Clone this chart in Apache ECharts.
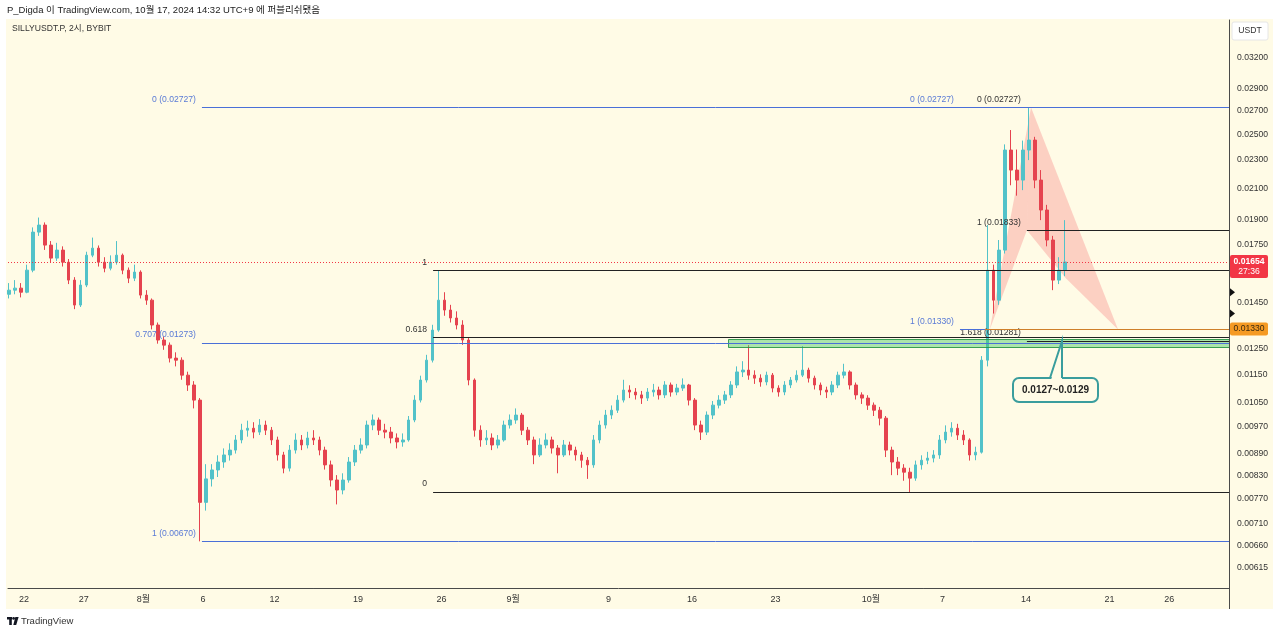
<!DOCTYPE html>
<html>
<head>
<meta charset="utf-8">
<script src="https://cdn.jsdelivr.net/npm/echarts@6/dist/echarts.min.js"></script>
<style>
html,body{margin:0;padding:0;background:#ffffff;}
#c{width:1280px;height:634px;}
</style>
</head>
<body>
<div id="c"></div>
<script>
// ---------------- DATA ----------------
const candleStart = Date.UTC(2024, 6, 20, 18);   // 12h candles
const candleStepHours = 12;
const firstOpen = 0.01490;
const closes = [
0.01510,0.01520,0.01500,0.01611,0.01822,0.01864,0.01747,0.01675,0.01719,0.01653,
0.01560,0.01439,0.01535,0.01691,0.01730,0.01653,0.01621,0.01653,0.01691,0.01611,
0.01570,0.01601,0.01486,0.01462,0.01349,0.01285,0.01264,0.01212,0.01204,0.01147,
0.01111,0.01058,0.00760,0.00820,0.00844,0.00866,0.00886,0.00900,0.00930,0.00960,
0.00966,0.00954,0.00976,0.00960,0.00930,0.00886,0.00849,0.00900,0.00930,0.00915,
0.00936,0.00930,0.00900,0.00858,0.00817,0.00791,0.00817,0.00866,0.00900,0.00915,
0.00976,0.00992,0.00960,0.00954,0.00936,0.00924,0.00930,0.00992,0.01058,0.01129,
0.01204,0.01327,0.01462,0.01416,0.01380,0.01349,0.01285,0.01129,0.00960,0.00930,
0.00936,0.00915,0.00930,0.00976,0.00992,0.01008,0.00960,0.00930,0.00886,0.00915,
0.00930,0.00906,0.00886,0.00915,0.00900,0.00886,0.00871,0.00858,0.00930,0.00976,
0.01008,0.01024,0.01058,0.01093,0.01086,0.01076,0.01065,0.01086,0.01093,0.01076,
0.01111,0.01086,0.01100,0.01111,0.01058,0.00976,0.00954,0.01008,0.01041,0.01058,
0.01076,0.01111,0.01159,0.01166,0.01147,0.01136,0.01122,0.01147,0.01100,0.01086,
0.01111,0.01129,0.01147,0.01166,0.01136,0.01111,0.01093,0.01086,0.01111,0.01147,
0.01159,0.01111,0.01076,0.01065,0.01041,0.01024,0.00998,0.00900,0.00866,0.00849,
0.00838,0.00822,0.00858,0.00871,0.00877,0.00886,0.00930,0.00954,0.00966,0.00945,
0.00930,0.00886,0.00894,0.01204,0.01611,0.01462,0.01719,0.02376,0.02227,0.02156,
0.02376,0.02454,0.02156,0.01957,0.01776,0.01560,0.01611,0.01654
];
const highs = [
0.01545,0.01560,0.01545,0.01640,0.01850,0.01910,0.01880,0.01770,0.01760,0.01740,
0.01670,0.01575,0.01560,0.01710,0.01790,0.01745,0.01680,0.01690,0.01770,0.01700,
0.01625,0.01640,0.01610,0.01510,0.01470,0.01360,0.01300,0.01275,0.01235,0.01215,
0.01160,0.01125,0.01065,0.00860,0.00860,0.00885,0.00905,0.00920,0.00945,0.00980,
0.00990,0.00985,0.00995,0.00990,0.00970,0.00940,0.00895,0.00915,0.00950,0.00945,
0.00955,0.00960,0.00940,0.00910,0.00870,0.00830,0.00835,0.00880,0.00915,0.00935,
0.00990,0.01010,0.01000,0.00980,0.00970,0.00950,0.00950,0.01005,0.01075,0.01145,
0.01225,0.01350,0.01611,0.01500,0.01440,0.01410,0.01370,0.01295,0.01135,0.00975,
0.00960,0.00950,0.00945,0.00990,0.01010,0.01030,0.01015,0.00970,0.00940,0.00935,
0.00950,0.00940,0.00915,0.00930,0.00925,0.00910,0.00895,0.00880,0.00945,0.00990,
0.01025,0.01040,0.01075,0.01130,0.01110,0.01100,0.01090,0.01100,0.01115,0.01105,
0.01125,0.01120,0.01115,0.01135,0.01115,0.01065,0.00990,0.01020,0.01055,0.01075,
0.01090,0.01125,0.01180,0.01200,0.01264,0.01165,0.01150,0.01160,0.01155,0.01110,
0.01125,0.01140,0.01165,0.01260,0.01175,0.01145,0.01120,0.01105,0.01125,0.01160,
0.01190,0.01165,0.01120,0.01085,0.01075,0.01050,0.01035,0.01005,0.00910,0.00880,
0.00860,0.00850,0.00870,0.00885,0.00895,0.00900,0.00945,0.00975,0.00985,0.00980,
0.00960,0.00935,0.00910,0.01220,0.01864,0.01640,0.01776,0.02420,0.02535,0.02380,
0.02450,0.02727,0.02480,0.02227,0.01990,0.01800,0.01680,0.01894
];
const lows = [
0.01470,0.01490,0.01475,0.01495,0.01600,0.01800,0.01720,0.01650,0.01660,0.01630,
0.01540,0.01420,0.01430,0.01525,0.01680,0.01630,0.01600,0.01610,0.01640,0.01590,
0.01545,0.01555,0.01470,0.01440,0.01330,0.01270,0.01245,0.01195,0.01180,0.01130,
0.01090,0.01030,0.00670,0.00740,0.00800,0.00825,0.00850,0.00870,0.00890,0.00920,
0.00940,0.00935,0.00945,0.00945,0.00915,0.00870,0.00835,0.00840,0.00890,0.00900,
0.00905,0.00915,0.00885,0.00845,0.00800,0.00755,0.00780,0.00810,0.00855,0.00890,
0.00905,0.00960,0.00945,0.00935,0.00920,0.00905,0.00910,0.00925,0.00985,0.01050,
0.01120,0.01195,0.01320,0.01390,0.01360,0.01330,0.01265,0.01110,0.00940,0.00910,
0.00915,0.00900,0.00905,0.00925,0.00965,0.00980,0.00945,0.00915,0.00860,0.00880,
0.00905,0.00890,0.00835,0.00880,0.00885,0.00870,0.00850,0.00820,0.00850,0.00920,
0.00965,0.00995,0.01015,0.01050,0.01065,0.01060,0.01045,0.01055,0.01070,0.01060,
0.01065,0.01070,0.01075,0.01090,0.01040,0.00960,0.00930,0.00945,0.00995,0.01030,
0.01045,0.01065,0.01100,0.01140,0.01130,0.01115,0.01105,0.01110,0.01085,0.01070,
0.01075,0.01100,0.01120,0.01140,0.01120,0.01095,0.01075,0.01065,0.01075,0.01100,
0.01135,0.01095,0.01060,0.01045,0.01025,0.01005,0.00975,0.00880,0.00830,0.00830,
0.00815,0.00786,0.00815,0.00845,0.00860,0.00865,0.00875,0.00920,0.00940,0.00930,
0.00915,0.00870,0.00871,0.00890,0.01180,0.01400,0.01440,0.01700,0.02120,0.02050,
0.02087,0.02300,0.02100,0.01894,0.01740,0.01510,0.01540,0.01580
];

const xTickDates = ['2024-07-22','2024-07-27','2024-08-01','2024-08-06','2024-08-12','2024-08-19','2024-08-26','2024-09-01','2024-09-09','2024-09-16','2024-09-23','2024-10-01','2024-10-07','2024-10-14','2024-10-21','2024-10-26'];
const xTickLabels = ['22','27','8월','6','12','19','26','9월','9','16','23','10월','7','14','21','26'];
const yTickValues = [0.032,0.029,0.027,0.025,0.023,0.021,0.019,0.0175,0.0145,0.0125,0.0115,0.0105,0.0097,0.0089,0.0083,0.0077,0.0071,0.0066,0.00615];

// Fibonacci retracement tools
const blueFibStart = '2024-08-05T22:00:00Z';
const blueFibPrices = [0.02727, 0.01273, 0.00670];
const blueFibLabels = ['0 (0.02727)', '0.707 (0.01273)', '1 (0.00670)'];

const blackFibStart = '2024-08-25T07:00:00Z';
const blackFibPrices = [0.01611, 0.01297, 0.00786];
const blackFibLabels = ['1', '0.618', '0'];

const blackFib2Start = '2024-10-14T01:40:00Z';
const blackFib2Prices = [0.02727, 0.01833, 0.01281];
const blackFib2Labels = ['0 (0.02727)', '1 (0.01833)', '1.618 (0.01281)'];

const blueFib2Start = '2024-10-08T11:00:00Z';
const blueFib2Prices = [0.02727, 0.01330];
const blueFib2Labels = ['0 (0.02727)', '1 (0.01330)'];

const orangeLineStart = '2024-10-10T13:00:00Z';
const orangeLinePrice = 0.01330;

// support zone
const zoneStart = '2024-09-19T00:00:00Z';
const zoneLow = 0.01258;
const zoneHigh = 0.01290;
const calloutTip = ['2024-10-17T00:00:00Z', 0.01281];
const calloutText = '0.0127~0.0129';

// harmonic pattern
const patternLeft = [['2024-10-10T23:00:00Z', 0.01330], ['2024-10-14T10:00:00Z', 0.02727], ['2024-10-14T01:40:00Z', 0.01833]];
const patternRight = [['2024-10-14T10:00:00Z', 0.02727], ['2024-10-21T17:00:00Z', 0.01330], ['2024-10-17T08:00:00Z', 0.01570], ['2024-10-14T01:40:00Z', 0.01833]];

const currentPrice = 0.01654;
const countdownText = '27:36';
const axisMarkerPrices = [0.01500, 0.01400];

// ---------------- BUILD ----------------
const HOUR = 3600000;
const FONT = '"Liberation Sans", "Noto Sans CJK KR", sans-serif';
const LABEL_FONT = '8.6px "Liberation Sans", sans-serif';
const CREAM = '#fffbe6';
const UP = '#52c2c9', DOWN = '#e5434f';
const BLUE = '#4a6fd8', BLUE_TEXT = '#5a7bd6', BLACK = '#222222', ORANGE = '#cf7f2a';

const axisStart = Date.parse('2024-07-20T15:49:00Z');
const axisEnd = Date.parse('2024-10-31T00:14:00Z');
const yMin = 0.005761, yMax = 0.03619;

const candleData = closes.map((c, i) => [
  candleStart + i * candleStepHours * HOUR,
  i === 0 ? firstOpen : closes[i - 1],
  c, lows[i], highs[i]
]);
const xTickTimes = xTickDates.map(d => Date.parse(d + 'T00:00:00Z'));

const levelItems = [];
function addLevels(start, prices, labels, lineColor, textColor) {
  prices.forEach((p, i) => levelItems.push({t: Date.parse(start), p: p, label: labels[i], color: lineColor, textColor: textColor}));
}
addLevels(blackFib2Start, blackFib2Prices, blackFib2Labels, BLACK, '#333');
addLevels(blueFib2Start, blueFib2Prices, blueFib2Labels, BLUE, BLUE_TEXT);
levelItems.push({t: Date.parse(orangeLineStart), p: orangeLinePrice, label: null, color: ORANGE});
addLevels(blackFibStart, blackFibPrices, blackFibLabels, BLACK, '#333');
addLevels(blueFibStart, blueFibPrices, blueFibLabels, BLUE, BLUE_TEXT);

// level lines as markLines (through the axes' scales)
const levelMarkLines = levelItems.map(it => [
  {coord: [it.t, it.p], lineStyle: {color: it.color, width: 1, type: 'solid', opacity: 1}},
  {coord: [axisEnd, it.p]}
]);

function renderLevelLabel(params, api) {
  const it = levelItems[params.dataIndex];
  if (!it.label) return null;
  const p = api.coord([it.t, it.p]);
  return {type: 'text', style: {text: it.label, x: p[0] - 6, y: p[1] - 8, align: 'right', verticalAlign: 'middle', fill: it.textColor, font: LABEL_FONT}};
}

const patterns = [patternLeft, patternRight];
function renderPattern(params, api) {
  const poly = patterns[params.dataIndex];
  const pts = poly.map(v => api.coord([Date.parse(v[0]), v[1]]));
  return {type: 'polygon', shape: {points: pts}, style: {fill: 'rgba(242,54,69,0.22)'}};
}

function renderZone(params, api) {
  const a = api.coord([Date.parse(zoneStart), zoneHigh]);
  const b = api.coord([Date.parse(zoneStart), zoneLow]);
  const cs = params.coordSys;
  const right = cs.x + cs.width;
  return {type: 'rect', shape: {x: Math.round(a[0]) + 0.5, y: Math.round(a[1]) + 0.5, width: right - a[0], height: Math.round(b[1] - a[1])},
          style: {fill: 'rgba(70,200,100,0.45)', stroke: 'rgba(40,150,70,0.9)', lineWidth: 1}};
}

function renderCallout(params, api) {
  const tip = api.coord([Date.parse(calloutTip[0]), calloutTip[1]]);
  const tx = Math.round(tip[0]), ty = Math.round(tip[1]);
  const teal = '#3a9d9d';
  return {type: 'group', children: [
    {type: 'rect', shape: {x: tx - 49, y: ty + 37, width: 85, height: 24, r: 6}, style: {fill: CREAM, stroke: teal, lineWidth: 2}},
    {type: 'polygon', shape: {points: [[tx - 11, ty + 39], [tx, ty], [tx, ty + 39]]}, style: {fill: CREAM}},
    {type: 'polyline', shape: {points: [[tx - 12, ty + 37], [tx, ty], [tx, ty + 37]]}, style: {stroke: teal, lineWidth: 2, fill: null}},
    {type: 'text', style: {text: calloutText, x: tx - 6.5, y: ty + 49, align: 'center', verticalAlign: 'middle', fill: '#222', font: 'bold 10px "Liberation Sans", sans-serif'}}
  ]};
}

function renderTags(params, api) {
  const cs = params.coordSys;
  const right = cs.x + cs.width;
  const pc = api.coord([axisEnd, currentPrice]);
  const po = api.coord([axisEnd, orangeLinePrice]);
  const yc = Math.round(pc[1]) + 0.5;
  const children = [
    {type: 'line', shape: {x1: cs.x, y1: yc, x2: right, y2: yc}, style: {stroke: '#f23645', lineWidth: 1, lineDash: [1, 2]}},
    {type: 'rect', shape: {x: right + 1, y: pc[1] - 7, width: 38, height: 23, r: 2}, style: {fill: '#f23645'}},
    {type: 'text', style: {text: currentPrice.toFixed(5), x: right + 20, y: pc[1] - 0.5, align: 'center', verticalAlign: 'middle', fill: '#fff', font: 'bold 8.6px "Liberation Sans", sans-serif'}},
    {type: 'text', style: {text: countdownText, x: right + 20, y: pc[1] + 9.5, align: 'center', verticalAlign: 'middle', fill: '#fff', font: '8.6px "Liberation Sans", sans-serif'}},
    {type: 'rect', shape: {x: right + 1, y: po[1] - 7, width: 38, height: 13, r: 2}, style: {fill: '#f59a23'}},
    {type: 'text', style: {text: orangeLinePrice.toFixed(5), x: right + 20, y: po[1] - 0.5, align: 'center', verticalAlign: 'middle', fill: '#3a2a10', font: '8.6px "Liberation Sans", sans-serif'}}
  ];
  axisMarkerPrices.forEach(p => {
    const q = api.coord([axisEnd, p]);
    children.push({type: 'polygon', shape: {points: [[right + 1, q[1] - 4], [right + 6, q[1]], [right + 1, q[1] + 4]]}, style: {fill: '#111'}});
  });
  return {type: 'group', children: children};
}

const option = {
  animation: false,
  backgroundColor: '#ffffff',
  textStyle: {fontFamily: FONT},
  grid: {left: 8, right: 51, top: 20, bottom: 46, containLabel: false},
  xAxis: {
    type: 'value', min: axisStart, max: axisEnd, scale: true,
    splitLine: {show: false},
    axisLine: {show: true, onZero: false, lineStyle: {color: '#4a4a4a', width: 1}},
    axisTick: {show: false},
    axisLabel: {
      customValues: xTickTimes,
      formatter: function (v) {
        for (let i = 0; i < xTickTimes.length; i++) if (Math.abs(xTickTimes[i] - v) < 60000) return xTickLabels[i];
        return '';
      },
      color: '#333', fontSize: 9, margin: 7, fontFamily: FONT
    }
  },
  yAxis: {
    type: 'log', logBase: 10, position: 'right', min: yMin, max: yMax,
    splitLine: {show: false},
    axisLine: {show: true, lineStyle: {color: '#4a4a4a', width: 1}},
    axisTick: {show: false},
    axisLabel: {
      customValues: yTickValues,
      formatter: function (v) { return Number(v).toFixed(5); },
      color: '#333', fontSize: 8.6, margin: 8, fontFamily: FONT
    }
  },
  graphic: [
    {type: 'rect', z: -10, shape: {x: 6, y: 19, width: 1267, height: 590}, style: {fill: CREAM}},
    {type: 'line', z: 10, shape: {x1: 1229.5, y1: 588, x2: 1229.5, y2: 609}, style: {stroke: '#4a4a4a', lineWidth: 1}},
    {type: 'text', z: 10, style: {text: 'P_Digda 이 TradingView.com, 10월 17, 2024 14:32 UTC+9 에 퍼블리쉬됐음', x: 7, y: 10, verticalAlign: 'middle', fill: '#222', font: '9.5px "Liberation Sans", "Noto Sans CJK KR", sans-serif'}},
    {type: 'text', z: 10, style: {text: 'SILLYUSDT.P, 2시, BYBIT', x: 12, y: 29, verticalAlign: 'middle', fill: '#333', font: '8.6px "Liberation Sans", "Noto Sans CJK KR", sans-serif'}},
    {type: 'rect', z: 10, shape: {x: 1232, y: 22, width: 36, height: 18, r: 2}, style: {fill: '#ffffff', stroke: '#e6e6e6'}},
    {type: 'text', z: 11, style: {text: 'USDT', x: 1250, y: 31, align: 'center', verticalAlign: 'middle', fill: '#333', font: '8.6px "Liberation Sans", sans-serif'}},
    {type: 'rect', z: 10, shape: {x: 7, y: 617, width: 5, height: 2.5}, style: {fill: '#131722'}},
    {type: 'rect', z: 10, shape: {x: 9.2, y: 617, width: 2.6, height: 8}, style: {fill: '#131722'}},
    {type: 'circle', z: 10, shape: {cx: 13.6, cy: 618.4, r: 1.4}, style: {fill: '#131722'}},
    {type: 'polygon', z: 10, shape: {points: [[15.3, 617], [18.6, 617], [16.2, 625], [13.3, 625]]}, style: {fill: '#131722'}},
    {type: 'text', z: 10, style: {text: 'TradingView', x: 21, y: 621, verticalAlign: 'middle', fill: '#333', font: '9.5px "Liberation Sans", sans-serif'}}
  ],
  series: [
    {type: 'custom', name: 'pattern', z: 1, clip: true, silent: true, renderItem: renderPattern,
     data: patterns.map(p => [Date.parse(p[0][0]), p[0][1]])},
    {type: 'candlestick', name: 'SILLYUSDT.P', z: 3, barWidth: 3,
     encode: {x: 0, y: [1, 2, 3, 4]},
     itemStyle: {color: UP, color0: DOWN, borderColor: UP, borderColor0: DOWN, borderWidth: 1},
     markLine: {silent: true, symbol: ['none', 'none'], animation: false, label: {show: false},
                emphasis: {disabled: true}, data: levelMarkLines},
     data: candleData},
    {type: 'custom', name: 'levelLabels', z: 4, clip: false, silent: true, renderItem: renderLevelLabel,
     data: levelItems.map(d => [d.t, d.p])},
    {type: 'custom', name: 'zone', z: 4, clip: true, silent: true, renderItem: renderZone,
     data: [[Date.parse(zoneStart), zoneHigh]]},
    {type: 'custom', name: 'callout', z: 5, clip: false, silent: true, renderItem: renderCallout,
     data: [[Date.parse(calloutTip[0]), calloutTip[1]]]},
    {type: 'custom', name: 'tags', z: 6, clip: false, silent: true, renderItem: renderTags,
     data: [[axisEnd, currentPrice]]}
  ]
};

const chart = echarts.init(document.getElementById('c'), null, {renderer: 'canvas', width: 1280, height: 634});
chart.setOption(option);
</script>
</body>
</html>
